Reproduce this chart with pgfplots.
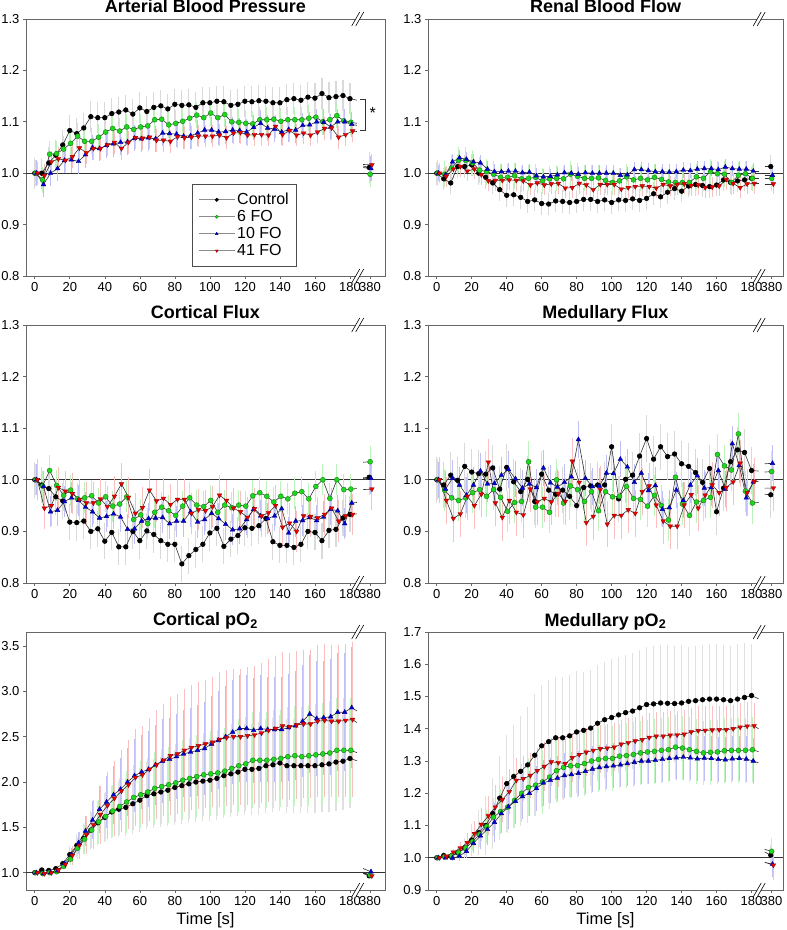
\documentclass[border=0pt]{standalone}
\usepackage{fontspec}
\setmainfont{Liberation Sans}
\usepackage{pgfplots}
\usepackage{pgfplotstable}
\pgfplotsset{compat=1.18}
\definecolor{cg}{RGB}{30,215,30}
\definecolor{cb}{RGB}{0,0,220}
\definecolor{cr}{RGB}{235,0,0}
\newcommand\tickfont{\fontsize{13}{15}\selectfont}
\newcommand{\brk}[2]{%
 \fill[white] ([xshift=-6pt,yshift=-7pt]rel axis cs:#1,#2) -- ([xshift=2pt,yshift=7pt]rel axis cs:#1,#2) -- ([xshift=6pt,yshift=7pt]rel axis cs:#1,#2) -- ([xshift=-2pt,yshift=-7pt]rel axis cs:#1,#2) -- cycle;
 \draw[black, line width=0.6pt] ([xshift=-6pt,yshift=-7pt]rel axis cs:#1,#2) -- ([xshift=2pt,yshift=7pt]rel axis cs:#1,#2) ([xshift=-2pt,yshift=-7pt]rel axis cs:#1,#2) -- ([xshift=6pt,yshift=7pt]rel axis cs:#1,#2);}

\pgfplotsset{
 panel/.style={scale only axis, clip=false, unbounded coords=jump, xmin=-5,
  xtick={0,20,40,60,80,100,120,140,160,180,191.4},
  xticklabels={0,20,40,60,80,100,120,140,160,180,380},
  tick align=outside, xtick pos=bottom, ytick pos=left, major tick length=3pt,
  tick style={black!60, line width=0.6pt},
  axis line style={black!60, line width=0.9pt},
  ticklabel style={font=\tickfont},
  /pgf/number format/assume math mode=true,
  yticklabel style={/pgf/number format/.cd, fixed, fixed zerofill, precision=1},
  title style={font=\bfseries\fontsize{18}{18}\selectfont, anchor=base, at={(0.5,1)}},
  xlabel style={font=\fontsize{16.5}{16.5}\selectfont},
 },
 sc/.style={black!80, line width=0.6pt, mark=*, mark size=2.3pt, mark options={solid, fill=black, draw=black}},
 sg/.style={black!80, line width=0.6pt, mark=*, mark size=2.5pt, mark options={solid, fill=cg, draw=cg!60!black, line width=0.4pt}},
 sb/.style={black!80, line width=0.6pt, mark=triangle*, mark size=2.7pt, mark options={solid, fill=cb, draw=cb!60!black, line width=0.4pt}},
 sr/.style={black!80, line width=0.6pt, mark=triangle*, mark size=2.7pt, mark options={solid, rotate=180, fill=cr, draw=cr!70!black, line width=0.4pt}},
 stub/.style={black!80, line width=0.6pt, mark=none, forget plot},
 errfix/.style 2 args={forget plot, draw=none, mark=none, error bars/.cd, y dir=both, y fixed=#2, error mark=none, error bar style={draw=#1, line width=1.1pt}},
 errexp/.style={forget plot, draw=none, mark=none, error bars/.cd, y dir=both, y explicit, error mark=none, error bar style={draw=#1, line width=1.1pt}},
}

\pgfplotstableread{
t c g b r
0 1.000 1.000 1.000 1.000
4 1.000 0.987 0.978 0.995
8 1.020 1.037 1.000 1.022
12 1.035 1.038 1.009 1.028
16 1.055 1.047 1.025 1.025
20 1.083 1.058 1.026 1.032
24 1.077 1.072 1.023 1.049
28 1.088 1.062 1.036 1.040
32 1.110 1.062 1.050 1.048
36 1.108 1.070 1.048 1.048
40 1.108 1.080 1.054 1.055
44 1.116 1.087 1.057 1.060
48 1.119 1.082 1.060 1.048
52 1.123 1.090 1.061 1.060
56 1.115 1.085 1.068 1.069
60 1.127 1.090 1.067 1.068
64 1.120 1.092 1.069 1.070
68 1.128 1.104 1.067 1.064
72 1.131 1.105 1.078 1.064
76 1.125 1.094 1.077 1.062
80 1.134 1.097 1.076 1.071
84 1.132 1.101 1.072 1.069
88 1.133 1.107 1.073 1.070
92 1.128 1.113 1.078 1.072
96 1.137 1.108 1.084 1.072
100 1.137 1.117 1.084 1.072
104 1.140 1.108 1.080 1.074
108 1.139 1.114 1.081 1.069
112 1.132 1.100 1.084 1.078
116 1.134 1.099 1.083 1.079
120 1.140 1.097 1.080 1.074
124 1.139 1.096 1.089 1.075
128 1.141 1.104 1.097 1.075
132 1.140 1.104 1.088 1.074
136 1.137 1.105 1.086 1.091
140 1.137 1.101 1.080 1.075
144 1.143 1.104 1.085 1.083
148 1.145 1.104 1.084 1.074
152 1.142 1.104 1.093 1.078
156 1.148 1.107 1.094 1.074
160 1.146 1.109 1.100 1.080
164 1.155 1.100 1.099 1.087
168 1.147 1.104 1.090 1.088
172 1.149 1.112 1.100 1.070
176 1.151 1.102 1.100 1.075
180 1.145 1.099 1.095 1.082
185 nan nan nan nan
191 1.011 0.998 1.009 1.016
}\abp

\pgfplotstableread{
t c g b r
0 1.000 1.000 1.000 1.000
4 0.989 0.998 0.997 0.994
8 0.981 1.010 1.022 1.008
12 1.013 1.025 1.030 1.013
16 1.013 1.025 1.027 1.004
20 1.016 1.020 1.022 1.008
24 1.000 1.006 1.020 0.997
28 0.992 1.003 1.008 0.985
32 0.981 0.998 1.003 0.986
36 0.968 0.992 1.003 0.986
40 0.957 0.992 1.004 0.987
44 0.958 0.995 1.004 0.986
48 0.953 0.989 1.001 0.985
52 0.945 0.990 1.002 0.977
56 0.948 0.992 0.995 0.981
60 0.941 0.985 0.993 0.977
64 0.940 0.989 0.994 0.979
68 0.946 0.990 0.997 0.980
72 0.945 0.989 1.001 0.971
76 0.943 0.998 1.000 0.972
80 0.945 0.994 0.998 0.980
84 0.949 0.990 1.001 0.977
88 0.949 0.990 1.000 0.968
92 0.945 0.991 1.000 0.978
96 0.948 0.986 1.000 0.978
100 0.943 0.982 1.000 0.978
104 0.948 0.985 0.996 0.969
108 0.947 0.993 0.997 0.972
112 0.950 0.987 1.007 0.974
116 0.947 0.990 1.007 0.975
120 0.951 0.987 1.005 0.974
124 0.960 0.992 1.003 0.971
128 0.954 0.988 1.003 0.978
132 0.963 0.983 1.002 0.975
136 0.970 0.982 1.003 0.978
140 0.965 0.982 1.006 0.979
144 0.975 0.982 1.005 0.976
148 0.978 0.993 1.008 0.977
152 0.976 0.990 1.009 0.972
156 0.974 1.003 1.009 0.973
160 0.977 0.999 1.007 0.975
164 0.987 0.998 1.012 0.988
168 0.982 0.982 1.009 0.980
172 0.985 0.996 1.008 0.972
176 0.987 0.999 1.008 0.979
180 0.990 0.990 1.004 0.980
185 nan nan nan nan
191 1.013 0.990 0.996 0.979
}\rbf

\pgfplotstableread{
t c g b r
0 1.000 1.000 1.000 1.000
4 0.990 0.988 0.987 0.945
8 0.983 1.018 0.938 0.950
12 0.967 0.989 0.941 0.985
16 0.959 0.970 0.958 0.978
20 0.918 0.980 0.965 0.973
24 0.917 0.963 0.960 0.962
28 0.920 0.965 0.947 0.955
32 0.900 0.969 0.938 0.955
36 0.905 0.955 0.926 0.963
40 0.881 0.967 0.929 0.948
44 0.898 0.949 0.934 0.968
48 0.870 0.953 0.928 0.992
52 0.870 0.967 0.904 0.966
56 0.900 0.923 0.905 0.935
60 0.882 0.932 0.920 0.946
64 0.901 0.915 0.925 0.980
68 0.894 0.937 0.926 0.959
72 0.882 0.947 0.927 0.964
76 0.875 0.940 0.915 0.952
80 0.875 0.931 0.920 0.962
84 0.837 0.949 0.920 0.962
88 0.853 0.965 0.938 0.935
92 0.865 0.951 0.918 0.942
96 0.875 0.948 0.923 0.940
100 0.897 0.960 0.935 0.948
104 0.906 0.937 0.925 0.970
108 0.871 0.951 0.914 0.960
112 0.885 0.946 0.903 0.945
116 0.892 0.951 0.905 0.938
120 0.907 0.949 0.923 0.927
124 0.906 0.969 0.943 0.944
128 0.911 0.975 0.930 0.930
132 0.925 0.968 0.925 0.936
136 0.880 0.957 0.930 0.950
140 0.873 0.968 0.944 0.908
144 0.873 0.963 0.897 0.916
148 0.869 0.974 0.920 0.900
152 0.875 0.977 0.921 0.930
156 0.900 0.963 0.927 0.929
160 0.898 0.987 0.921 0.926
164 0.882 1.000 0.928 0.933
168 0.902 0.964 0.943 0.945
172 0.904 1.000 0.940 0.920
176 0.926 0.981 0.915 0.930
180 0.933 0.982 0.955 0.933
185 nan nan nan nan
191 1.005 1.035 1.003 0.982
}\cfx

\pgfplotstableread{
t c g b r
0 1.000 1.000 1.000 1.000
4 0.990 0.980 0.982 0.960
8 1.009 0.965 1.003 0.925
12 0.999 0.960 0.990 0.934
16 1.026 0.965 0.970 0.968
20 1.015 0.975 0.990 0.950
24 1.012 0.981 1.017 0.972
28 1.011 0.968 0.992 1.034
32 1.023 0.981 0.993 0.955
36 0.982 0.966 1.009 0.927
40 1.024 0.939 1.020 0.960
44 0.996 0.956 1.002 0.937
48 0.977 0.958 0.984 0.932
52 1.001 1.035 0.992 0.982
56 0.958 0.947 0.985 0.957
60 1.011 0.947 1.023 0.964
64 0.980 0.937 0.994 0.957
68 0.972 1.000 0.986 0.973
72 0.980 0.955 0.995 0.958
76 0.968 0.988 1.006 1.036
80 0.950 0.981 1.078 0.995
84 0.985 0.958 1.003 0.917
88 0.988 0.977 0.987 0.929
92 0.990 0.940 0.988 0.981
96 0.990 0.977 1.013 0.914
100 1.064 0.967 1.012 0.931
104 0.963 0.968 1.040 0.931
108 1.001 0.987 1.025 0.942
112 1.009 0.964 0.995 0.935
116 1.046 0.962 1.013 0.977
120 1.080 0.949 0.979 0.988
124 1.040 0.970 0.989 0.951
128 1.064 0.950 0.943 0.920
132 1.045 0.922 0.946 0.910
136 1.050 1.005 0.980 0.910
140 1.031 0.953 0.960 0.951
144 1.026 0.931 0.990 0.971
148 1.014 0.957 1.008 0.945
152 0.995 0.960 0.984 0.970
156 1.022 0.966 0.985 0.990
160 0.938 1.049 1.018 0.975
164 0.984 1.027 0.982 0.985
168 1.035 1.019 1.070 0.996
172 1.058 1.089 1.028 1.032
176 1.053 0.978 0.965 0.975
180 1.018 0.955 0.996 0.997
185 nan nan nan nan
191 0.971 1.016 1.032 0.984
}\mfx

\pgfplotstableread{
t c g b r ec eg eb er
0 1.000 1.000 1.000 1.000 0 0 0 0
4 1.030 0.990 0.990 0.990 0.01 0.00 0.00 0.00
8 1.025 1.000 1.000 1.000 0.01 0.00 0.00 0.00
12 1.045 1.010 1.020 1.030 0.02 0.00 0.01 0.02
16 1.100 1.070 1.100 1.090 0.04 0.03 0.04 0.05
20 1.200 1.150 1.200 1.190 0.09 0.06 0.07 0.10
24 1.300 1.270 1.330 1.300 0.13 0.12 0.12 0.15
28 1.380 1.370 1.460 1.420 0.17 0.16 0.17 0.21
32 1.470 1.470 1.580 1.530 0.21 0.20 0.21 0.27
36 1.550 1.560 1.700 1.640 0.24 0.24 0.26 0.32
40 1.610 1.620 1.780 1.740 0.27 0.27 0.29 0.37
44 1.670 1.680 1.860 1.820 0.29 0.29 0.32 0.41
48 1.700 1.730 1.920 1.900 0.31 0.31 0.34 0.45
52 1.720 1.780 2.000 1.970 0.32 0.34 0.37 0.49
56 1.760 1.830 2.070 2.050 0.33 0.36 0.40 0.53
60 1.800 1.860 2.110 2.080 0.35 0.37 0.41 0.54
64 1.850 1.890 2.140 2.140 0.37 0.38 0.42 0.57
68 1.870 1.930 2.190 2.190 0.38 0.40 0.44 0.60
72 1.890 1.950 2.230 2.240 0.39 0.41 0.46 0.62
76 1.910 1.970 2.250 2.290 0.40 0.42 0.46 0.65
80 1.940 1.990 2.280 2.310 0.41 0.43 0.47 0.66
84 1.960 2.020 2.310 2.350 0.42 0.44 0.48 0.68
88 1.980 2.040 2.330 2.380 0.43 0.45 0.49 0.69
92 2.000 2.060 2.350 2.400 0.44 0.46 0.50 0.70
96 2.010 2.080 2.370 2.420 0.44 0.46 0.51 0.71
100 2.020 2.090 2.420 2.440 0.45 0.47 0.53 0.72
104 2.040 2.100 2.460 2.470 0.46 0.47 0.54 0.74
108 2.070 2.120 2.500 2.490 0.47 0.48 0.56 0.75
112 2.090 2.150 2.550 2.500 0.48 0.49 0.57 0.75
116 2.110 2.180 2.590 2.500 0.49 0.51 0.59 0.75
120 2.140 2.200 2.590 2.510 0.50 0.52 0.59 0.76
124 2.140 2.240 2.570 2.520 0.50 0.53 0.58 0.76
128 2.150 2.240 2.590 2.540 0.51 0.53 0.59 0.77
132 2.180 2.240 2.580 2.570 0.52 0.53 0.58 0.79
136 2.190 2.250 2.580 2.590 0.52 0.54 0.58 0.80
140 2.210 2.260 2.580 2.620 0.53 0.54 0.58 0.81
144 2.180 2.280 2.600 2.610 0.52 0.55 0.59 0.81
148 2.180 2.290 2.620 2.630 0.52 0.55 0.60 0.82
152 2.180 2.280 2.670 2.640 0.52 0.55 0.62 0.82
156 2.180 2.290 2.750 2.640 0.52 0.55 0.65 0.82
160 2.180 2.300 2.700 2.670 0.52 0.56 0.63 0.84
164 2.190 2.310 2.710 2.680 0.52 0.56 0.63 0.84
168 2.200 2.320 2.720 2.670 0.53 0.57 0.64 0.84
172 2.220 2.350 2.770 2.670 0.54 0.58 0.65 0.84
176 2.230 2.350 2.770 2.680 0.54 0.58 0.65 0.84
180 2.260 2.350 2.820 2.690 0.55 0.58 0.67 0.85
185 nan nan nan nan 0 0 0 0
191 0.965 0.975 1.010 0.965 0.02 0.02 0.03 0.03
}\cpo

\pgfplotstableread{
t c g b r ec eg eb er
0 1.000 1.000 1.000 1.000 0 0 0 0
4 1.007 1.003 1.000 1.005 0.01 0.005 0.005 0.005
8 1.005 1.006 0.999 1.017 0.01 0.01 0.01 0.01
12 1.015 1.016 1.005 1.030 0.02 0.015 0.015 0.02
16 1.030 1.030 1.020 1.047 0.03 0.02 0.02 0.03
20 1.055 1.050 1.045 1.075 0.05 0.03 0.03 0.04
24 1.078 1.073 1.068 1.103 0.07 0.04 0.04 0.05
28 1.100 1.097 1.088 1.130 0.09 0.05 0.05 0.06
32 1.137 1.126 1.110 1.157 0.11 0.06 0.06 0.07
36 1.185 1.143 1.137 1.180 0.13 0.07 0.06 0.07
40 1.230 1.157 1.158 1.205 0.15 0.08 0.07 0.07
44 1.252 1.178 1.175 1.240 0.16 0.085 0.07 0.07
48 1.268 1.200 1.190 1.245 0.17 0.09 0.07 0.07
52 1.288 1.218 1.200 1.255 0.18 0.09 0.07 0.07
56 1.318 1.225 1.215 1.270 0.19 0.095 0.07 0.07
60 1.347 1.235 1.232 1.283 0.19 0.10 0.07 0.075
64 1.360 1.250 1.240 1.297 0.19 0.10 0.07 0.075
68 1.372 1.270 1.247 1.295 0.19 0.10 0.07 0.075
72 1.372 1.280 1.255 1.292 0.19 0.10 0.07 0.075
76 1.378 1.285 1.258 1.310 0.19 0.10 0.07 0.075
80 1.390 1.286 1.262 1.320 0.19 0.10 0.07 0.075
84 1.395 1.292 1.268 1.327 0.18 0.10 0.07 0.075
88 1.402 1.300 1.275 1.333 0.18 0.10 0.07 0.075
92 1.417 1.305 1.280 1.338 0.18 0.10 0.07 0.075
96 1.428 1.308 1.283 1.340 0.18 0.10 0.07 0.075
100 1.435 1.308 1.285 1.343 0.18 0.10 0.07 0.075
104 1.443 1.315 1.288 1.352 0.18 0.10 0.07 0.075
108 1.450 1.317 1.292 1.357 0.18 0.10 0.07 0.075
112 1.455 1.320 1.296 1.362 0.18 0.10 0.07 0.075
116 1.465 1.325 1.300 1.366 0.18 0.10 0.07 0.075
120 1.475 1.328 1.300 1.373 0.18 0.10 0.07 0.075
124 1.477 1.330 1.302 1.377 0.18 0.10 0.07 0.075
128 1.480 1.333 1.305 1.377 0.18 0.10 0.07 0.075
132 1.479 1.335 1.308 1.380 0.18 0.10 0.07 0.075
136 1.478 1.343 1.310 1.381 0.18 0.10 0.07 0.075
140 1.480 1.340 1.312 1.383 0.18 0.10 0.07 0.075
144 1.485 1.335 1.310 1.390 0.17 0.10 0.07 0.075
148 1.487 1.330 1.307 1.394 0.17 0.10 0.07 0.075
152 1.490 1.325 1.309 1.395 0.17 0.10 0.07 0.075
156 1.492 1.327 1.308 1.396 0.17 0.10 0.07 0.075
160 1.492 1.328 1.305 1.397 0.17 0.10 0.07 0.075
164 1.490 1.332 1.304 1.397 0.17 0.10 0.07 0.075
168 1.487 1.333 1.307 1.400 0.17 0.10 0.07 0.075
172 1.492 1.333 1.308 1.405 0.17 0.10 0.07 0.075
176 1.497 1.333 1.306 1.408 0.17 0.10 0.07 0.075
180 1.503 1.335 1.300 1.409 0.16 0.10 0.07 0.07
185 nan nan nan nan 0 0 0 0
191 1.008 1.020 0.980 0.977 0.03 0.04 0.04 0.045
}\mpo

\begin{document}
\begin{tikzpicture}
\useasboundingbox (0,0) rectangle (787pt,930pt);

% ---------------- Arterial Blood Pressure
\begin{axis}[panel, at={(26pt,654pt)}, anchor=south west, width=359pt, height=257pt,
  xmax=200, ymin=0.8, ymax=1.3, ytick={0.8,0.9,1.0,1.1,1.2,1.3},
  title={Arterial Blood Pressure},
  legend style={at={(axis cs:89.8,0.979)}, anchor=north west, font=\fontsize{16}{16}\selectfont, draw=black!70, line width=0.6pt, cells={anchor=west, text height=11.5pt, text depth=2.5pt}, row sep=0pt, inner xsep=6pt, inner ysep=7pt},
  legend image code/.code={\draw[black!45, line width=0.9pt, mark=none] (0pt,0pt) -- (36pt,0pt); \draw[mark size=1.6pt] plot[only marks] coordinates {(18pt,0pt)};}]
\addplot[black!80, line width=0.6pt, forget plot] coordinates {(-5,1)(200,1)};
\addplot[errfix={black!15}{0.03}] table[x=t,y=c]{\abp};
\addplot[errfix={cg!30}{0.025}] table[x expr=\thisrow{t}+0.5,y=g]{\abp};
\addplot[errfix={cb!25}{0.025}] table[x expr=\thisrow{t}+1,y=b]{\abp};
\addplot[errfix={cr!25}{0.022}] table[x expr=\thisrow{t}+1.5,y=r]{\abp};
\addplot[stub] coordinates {(180,1.145)(184,1.142)(185,nan)(187.5,1.014)(191,1.011)(185,nan)
 (180.5,1.099)(184,1.097)(185,nan)(187.5,1.000)(191.5,0.998)(185,nan)
 (181,1.095)(184,1.093)(185,nan)(187.5,1.011)(192,1.009)(185,nan)
 (181.5,1.082)(184,1.081)(185,nan)(187.5,1.017)(192.5,1.016)};
\addplot[sc] table[x=t,y=c]{\abp};
\addplot[sg] table[x expr=\thisrow{t}+0.5,y=g]{\abp};
\addplot[sb] table[x expr=\thisrow{t}+1,y=b]{\abp};
\addplot[sr] table[x expr=\thisrow{t}+1.5,y=r]{\abp};
\legend{Control,6 FO,10 FO,41 FO}
\draw[black!80, line width=0.6pt] (axis cs:186,1.143) -- (axis cs:189,1.143) -- (axis cs:189,1.083) -- (axis cs:186,1.083);
\node[font=\fontsize{16}{16}\selectfont] at (axis cs:193,1.117) {*};
\brk{0.924}{1}\brk{0.924}{0}
\end{axis}

% ---------------- Renal Blood Flow
\begin{axis}[panel, at={(428pt,654pt)}, anchor=south west, width=355pt, height=257pt,
  xmax=198, ymin=0.8, ymax=1.3, ytick={0.8,0.9,1.0,1.1,1.2,1.3},
  title={Renal Blood Flow}]
\addplot[black!80, line width=0.6pt, forget plot] coordinates {(-5,1)(198,1)};
\addplot[errfix={black!15}{0.022}] table[x=t,y=c]{\rbf};
\addplot[errfix={cg!30}{0.025}] table[x expr=\thisrow{t}+0.5,y=g]{\rbf};
\addplot[errfix={cb!25}{0.015}] table[x expr=\thisrow{t}+1,y=b]{\rbf};
\addplot[errfix={cr!25}{0.02}] table[x expr=\thisrow{t}+1.5,y=r]{\rbf};
\addplot[stub] coordinates {(180,0.990)(184,0.990)(185,nan)(187.5,1.013)(191,1.013)(185,nan)
 (180.5,0.990)(184,0.990)(185,nan)(187.5,0.990)(191.5,0.990)(185,nan)
 (181,1.004)(184,1.004)(185,nan)(187.5,0.996)(192,0.996)(185,nan)
 (181.5,0.980)(184,0.980)(185,nan)(187.5,0.979)(192.5,0.979)};
\addplot[sc] table[x=t,y=c]{\rbf};
\addplot[sg] table[x expr=\thisrow{t}+0.5,y=g]{\rbf};
\addplot[sb] table[x expr=\thisrow{t}+1,y=b]{\rbf};
\addplot[sr] table[x expr=\thisrow{t}+1.5,y=r]{\rbf};
\brk{0.933}{1}\brk{0.933}{0}
\end{axis}

% ---------------- Cortical Flux
\begin{axis}[panel, at={(26pt,347pt)}, anchor=south west, width=359pt, height=258pt,
  xmax=200, ymin=0.8, ymax=1.3, ytick={0.8,0.9,1.0,1.1,1.2,1.3},
  title={Cortical Flux}]
\addplot[black!80, line width=0.6pt, forget plot] coordinates {(-5,1)(200,1)};
\addplot[errfix={black!15}{0.035}] table[x=t,y=c]{\cfx};
\addplot[errfix={cg!30}{0.03}] table[x expr=\thisrow{t}+0.5,y=g]{\cfx};
\addplot[errfix={cb!25}{0.03}] table[x expr=\thisrow{t}+1,y=b]{\cfx};
\addplot[errfix={cr!25}{0.04}] table[x expr=\thisrow{t}+1.5,y=r]{\cfx};
\addplot[stub] coordinates {(180,0.933)(184,0.934)(185,nan)(187.5,1.004)(191,1.005)(185,nan)
 (180.5,0.982)(184,0.983)(185,nan)(187.5,1.034)(191.5,1.035)(185,nan)
 (181,0.955)(184,0.956)(185,nan)(187.5,1.002)(192,1.003)(185,nan)
 (181.5,0.933)(184,0.934)(185,nan)(187.5,0.981)(192.5,0.982)};
\addplot[sc] table[x=t,y=c]{\cfx};
\addplot[sg] table[x expr=\thisrow{t}+0.5,y=g]{\cfx};
\addplot[sb] table[x expr=\thisrow{t}+1,y=b]{\cfx};
\addplot[sr] table[x expr=\thisrow{t}+1.5,y=r]{\cfx};
\brk{0.924}{1}\brk{0.924}{0}
\end{axis}

% ---------------- Medullary Flux
\begin{axis}[panel, at={(428pt,347pt)}, anchor=south west, width=355pt, height=258pt,
  xmax=198, ymin=0.8, ymax=1.3, ytick={0.8,0.9,1.0,1.1,1.2,1.3},
  title={Medullary Flux}]
\addplot[black!80, line width=0.6pt, forget plot] coordinates {(-5,1)(198,1)};
\addplot[errfix={black!15}{0.045}] table[x=t,y=c]{\mfx};
\addplot[errfix={cg!30}{0.04}] table[x expr=\thisrow{t}+0.5,y=g]{\mfx};
\addplot[errfix={cb!25}{0.035}] table[x expr=\thisrow{t}+1,y=b]{\mfx};
\addplot[errfix={cr!25}{0.045}] table[x expr=\thisrow{t}+1.5,y=r]{\mfx};
\addplot[stub] coordinates {(180,1.018)(184,1.017)(185,nan)(187.5,0.972)(191,0.971)(185,nan)
 (180.5,0.955)(184,0.956)(185,nan)(187.5,1.015)(191.5,1.016)(185,nan)
 (181,0.996)(184,0.997)(185,nan)(187.5,1.031)(192,1.032)(185,nan)
 (181.5,0.997)(184,0.997)(185,nan)(187.5,0.984)(192.5,0.984)};
\addplot[sc] table[x=t,y=c]{\mfx};
\addplot[sg] table[x expr=\thisrow{t}+0.5,y=g]{\mfx};
\addplot[sb] table[x expr=\thisrow{t}+1,y=b]{\mfx};
\addplot[sr] table[x expr=\thisrow{t}+1.5,y=r]{\mfx};
\brk{0.933}{1}\brk{0.933}{0}
\end{axis}

% ---------------- Cortical pO2
\begin{axis}[panel, at={(26pt,40pt)}, anchor=south west, width=359pt, height=258pt,
  xmax=200, ymin=0.809, ymax=3.655, ytick={1.0,1.5,2.0,2.5,3.0,3.5},
  title={Cortical pO\textsubscript{2}}, xlabel={Time [s]}]
\addplot[black!80, line width=0.6pt, forget plot] coordinates {(-5,1)(200,1)};
\addplot[errexp={black!12}] table[x=t,y=c,y error=ec]{\cpo};
\addplot[errexp={cg!28}] table[x expr=\thisrow{t}+0.5,y=g,y error=eg]{\cpo};
\addplot[errexp={cb!25}] table[x expr=\thisrow{t}+1,y=b,y error=eb]{\cpo};
\addplot[errexp={cr!25}] table[x expr=\thisrow{t}+1.5,y=r,y error=er]{\cpo};
\addplot[stub] coordinates {(180,2.26)(184,2.234)(185,nan)(187.5,0.991)(191,0.965)(185,nan)
 (180.5,2.35)(184,2.323)(185,nan)(187.5,1.003)(191.5,0.975)(185,nan)
 (181,2.82)(184,2.784)(185,nan)(187.5,1.046)(192,1.010)(185,nan)
 (181.5,2.69)(184,2.655)(185,nan)(187.5,1.000)(192.5,0.965)};
\addplot[sc] table[x=t,y=c]{\cpo};
\addplot[sg] table[x expr=\thisrow{t}+0.5,y=g]{\cpo};
\addplot[sb] table[x expr=\thisrow{t}+1,y=b]{\cpo};
\addplot[sr] table[x expr=\thisrow{t}+1.5,y=r]{\cpo};
\brk{0.924}{1}\brk{0.924}{0}
\end{axis}

% ---------------- Medullary pO2
\begin{axis}[panel, at={(428pt,40pt)}, anchor=south west, width=355pt, height=258pt,
  xmax=198, ymin=0.9, ymax=1.7, ytick={0.9,1.0,1.1,1.2,1.3,1.4,1.5,1.6,1.7},
  title={Medullary pO\textsubscript{2}}, xlabel={Time [s]}]
\addplot[black!80, line width=0.6pt, forget plot] coordinates {(-5,1)(198,1)};
\addplot[errexp={black!12}] table[x=t,y=c,y error=ec]{\mpo};
\addplot[errexp={cg!28}] table[x expr=\thisrow{t}+0.5,y=g,y error=eg]{\mpo};
\addplot[errexp={cb!25}] table[x expr=\thisrow{t}+1,y=b,y error=eb]{\mpo};
\addplot[errexp={cr!25}] table[x expr=\thisrow{t}+1.5,y=r,y error=er]{\mpo};
\addplot[stub] coordinates {(180,1.503)(184,1.493)(185,nan)(187.5,1.018)(191,1.008)(185,nan)
 (180.5,1.335)(184,1.329)(185,nan)(187.5,1.026)(191.5,1.020)(185,nan)
 (181,1.300)(184,1.294)(185,nan)(187.5,0.986)(192,0.980)(185,nan)
 (181.5,1.409)(184,1.400)(185,nan)(187.5,0.986)(192.5,0.977)};
\addplot[sc] table[x=t,y=c]{\mpo};
\addplot[sg] table[x expr=\thisrow{t}+0.5,y=g]{\mpo};
\addplot[sb] table[x expr=\thisrow{t}+1,y=b]{\mpo};
\addplot[sr] table[x expr=\thisrow{t}+1.5,y=r]{\mpo};
\brk{0.933}{1}\brk{0.933}{0}
\end{axis}
\end{tikzpicture}
\end{document}
